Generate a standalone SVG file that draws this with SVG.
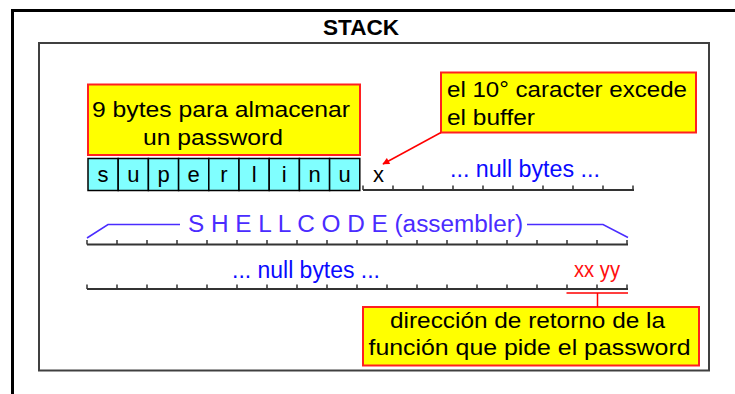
<svg xmlns="http://www.w3.org/2000/svg" width="735" height="394" viewBox="0 0 735 394">
  <style>
    .t { font-family: "Liberation Sans", Arial, sans-serif; }
    .note rect { fill: #ffff00; stroke: #ff2020; stroke-width: 2; }
    .note text { font-size: 22px; fill: #000; }
    .cell rect { fill: #80ffff; stroke: #000; stroke-width: 1.5; }
    .cell text { font-size: 22px; fill: #000; text-anchor: middle; }
    .ruler { fill: none; stroke: #333; stroke-width: 2; }
    .tick { fill: none; stroke: #333; stroke-width: 1.5; }
    .blue { fill: #0a0aff; font-size: 23px; }
    .shell { fill: #4a2cff; font-size: 23px; }
    .bracket { fill: none; stroke: #4a2cff; stroke-width: 1.5; }
    .red { fill: none; stroke: #ff0000; stroke-width: 1.5; }
  </style>
  <defs>
    <marker id="arrowhead" viewBox="0 0 10 10" refX="9" refY="5" markerWidth="9" markerHeight="7" markerUnits="userSpaceOnUse" orient="auto">
      <path d="M0,0 L10,5 L0,10 Z" fill="#ff0000"/>
    </marker>
  </defs>

  <rect width="735" height="394" fill="#ffffff"/>

  <!-- outer frame -->
  <path d="M12.5,394 V10.5 H735" fill="none" stroke="#000" stroke-width="3"/>

  <!-- stack area -->
  <g id="stack">
    <text class="t" x="323" y="35" font-size="22" font-weight="bold" textLength="76" lengthAdjust="spacingAndGlyphs">STACK</text>
    <rect x="39" y="43" width="670" height="327.5" fill="none" stroke="#404040" stroke-width="2"/>
  </g>

  <!-- password buffer cells -->
  <g id="buffer" class="t">
    <g class="cell"><rect x="88" y="158.5" width="30.2" height="32"/><text x="103.1" y="182">s</text></g>
    <g class="cell"><rect x="118.2" y="158.5" width="30.2" height="32"/><text x="133.3" y="182">u</text></g>
    <g class="cell"><rect x="148.4" y="158.5" width="30.2" height="32"/><text x="163.5" y="182">p</text></g>
    <g class="cell"><rect x="178.6" y="158.5" width="30.2" height="32"/><text x="193.7" y="182">e</text></g>
    <g class="cell"><rect x="208.8" y="158.5" width="30.2" height="32"/><text x="223.9" y="182">r</text></g>
    <g class="cell"><rect x="239" y="158.5" width="30.2" height="32"/><text x="254.1" y="182">l</text></g>
    <g class="cell"><rect x="269.2" y="158.5" width="30.2" height="32"/><text x="284.3" y="182">i</text></g>
    <g class="cell"><rect x="299.4" y="158.5" width="30.2" height="32"/><text x="314.5" y="182">n</text></g>
    <g class="cell"><rect x="329.6" y="158.5" width="30.2" height="32"/><text x="344.7" y="182">u</text></g>
  </g>

  <!-- rulers -->
  <g id="ruler-top">
    <path class="ruler" d="M363,190 H634"/>
    <path class="tick" d="M363,190 v-4.5 M393,190 v-4.5 M423,190 v-4.5 M453,190 v-4.5 M483,190 v-4.5 M513,190 v-4.5 M543,190 v-4.5 M573,190 v-4.5 M603,190 v-4.5 M633,190 v-4.5"/>
    <text class="t" x="373" y="181.5" font-size="22" fill="#000">x</text>
    <text class="t blue" x="450" y="177" textLength="150" lengthAdjust="spacingAndGlyphs">... null bytes ...</text>
  </g>

  <g id="ruler-middle">
    <path class="ruler" d="M87,244.5 H628"/>
    <path class="tick" d="M87,244.5 v-4.5 M117,244.5 v-4.5 M147,244.5 v-4.5 M177,244.5 v-4.5 M207,244.5 v-4.5 M237,244.5 v-4.5 M267,244.5 v-4.5 M297,244.5 v-4.5 M327,244.5 v-4.5 M357,244.5 v-4.5 M387,244.5 v-4.5 M417,244.5 v-4.5 M447,244.5 v-4.5 M477,244.5 v-4.5 M507,244.5 v-4.5 M537,244.5 v-4.5 M567,244.5 v-4.5 M597,244.5 v-4.5 M627,244.5 v-4.5"/>
    <polyline class="bracket" points="87,238 108,224.5 180,224.5"/>
    <polyline class="bracket" points="527,224.5 603,224.5 628,237.5"/>
    <text class="t shell" x="188" y="232" textLength="335" lengthAdjust="spacingAndGlyphs">S H E L L C O D E (assembler)</text>
  </g>

  <g id="ruler-bottom">
    <path class="ruler" d="M87,289 H628"/>
    <path class="tick" d="M87,289 v-4.5 M117,289 v-4.5 M147,289 v-4.5 M177,289 v-4.5 M207,289 v-4.5 M237,289 v-4.5 M267,289 v-4.5 M297,289 v-4.5 M327,289 v-4.5 M357,289 v-4.5 M387,289 v-4.5 M417,289 v-4.5 M447,289 v-4.5 M477,289 v-4.5 M507,289 v-4.5 M537,289 v-4.5 M567,289 v-4.5 M597,289 v-4.5 M627,289 v-4.5"/>
    <text class="t blue" x="232" y="278" textLength="148" lengthAdjust="spacingAndGlyphs">... null bytes ...</text>
    <text class="t" x="574" y="277" font-size="22" fill="#ff1010" textLength="46" lengthAdjust="spacingAndGlyphs">xx yy</text>
  </g>

  <!-- notes -->
  <g id="note-buffer" class="note t">
    <rect x="88" y="84.5" width="272" height="70.5"/>
    <text x="92" y="117" textLength="258" lengthAdjust="spacingAndGlyphs">9 bytes para almacenar</text>
    <text x="143" y="145" textLength="140" lengthAdjust="spacingAndGlyphs">un password</text>
  </g>

  <g id="note-overflow" class="note t">
    <rect x="441" y="72.5" width="255" height="60"/>
    <text x="447" y="97" textLength="240" lengthAdjust="spacingAndGlyphs">el 10° caracter excede</text>
    <text x="447" y="125" textLength="88" lengthAdjust="spacingAndGlyphs">el buffer</text>
  </g>

  <g id="note-return" class="note t">
    <rect x="363" y="307" width="336" height="58.5"/>
    <text x="390" y="328" textLength="275" lengthAdjust="spacingAndGlyphs">dirección de retorno de la</text>
    <text x="368.5" y="355" textLength="322" lengthAdjust="spacingAndGlyphs">función que pide el password</text>
  </g>

  <!-- connectors -->
  <g id="connectors">
    <line class="red" x1="441" y1="132.5" x2="383" y2="164" marker-end="url(#arrowhead)"/>
    <path class="red" d="M566.5,293 H628 M597.5,293 V307"/>
  </g>
</svg>
